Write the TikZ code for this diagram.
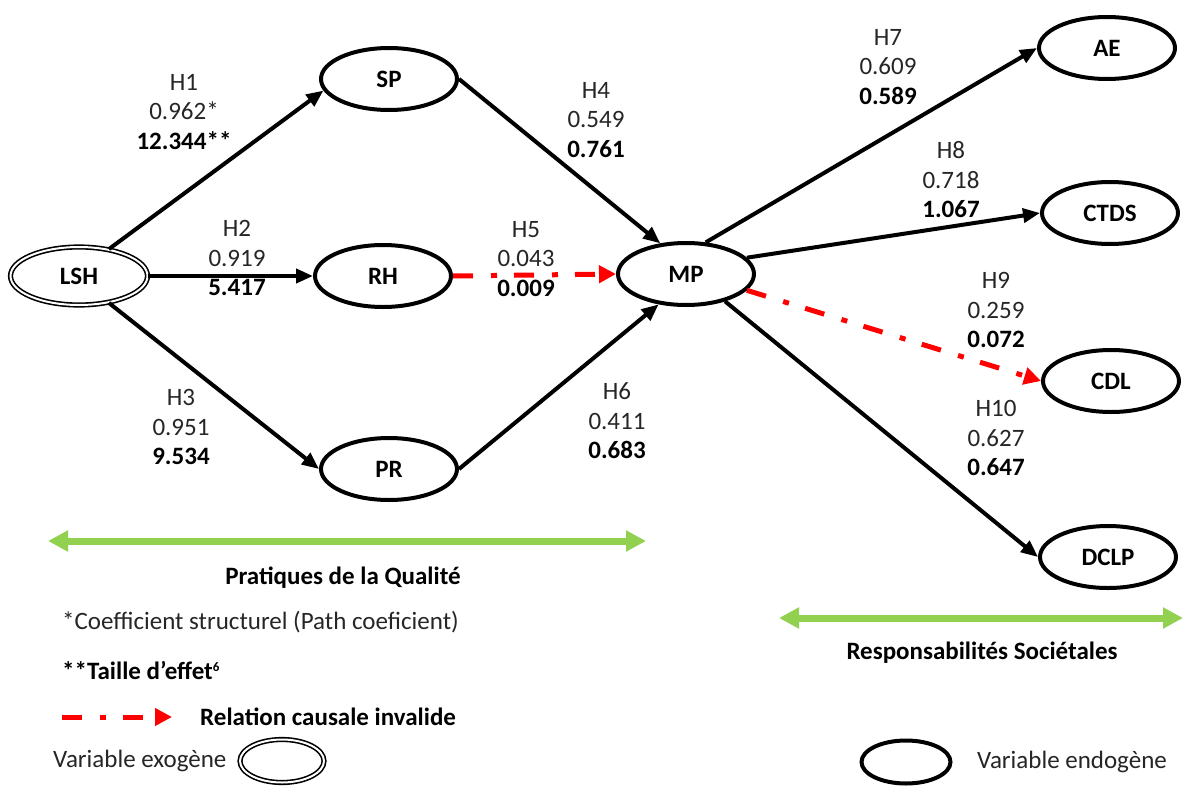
\documentclass[tikz,border=0pt]{standalone}
\usepackage{fontspec}
\setmainfont{Carlito}
\usetikzlibrary{arrows.meta,shapes.geometric}
\definecolor{lgreen}{RGB}{146,208,80}
\definecolor{txt}{RGB}{38,38,38}
\begin{document}
\begin{tikzpicture}[x=1pt,y=-1pt,
  every node/.style={font=\fontsize{25}{29.5}\selectfont, text=txt},
  var/.style={ellipse, draw=black, line width=4pt, minimum width=136pt, minimum height=62pt, inner sep=0pt, font=\fontsize{25}{29.5}\selectfont\bfseries, text=black},
  exo/.style={ellipse, draw=black, line width=1.6pt, double=white, double distance=2pt, minimum width=137pt, minimum height=58pt, inner sep=0pt, font=\fontsize{25}{29.5}\selectfont\bfseries, text=black},
  conn/.style={line width=4pt, -{Triangle[length=17pt,width=14pt]}},
  invalid/.style={red, line width=5pt, dash pattern=on 20pt off 18pt on 6pt off 17pt, -{Triangle[length=17pt,width=17pt]}},
  spanarrow/.style={lgreen, line width=7pt, {Triangle[length=20pt,width=20pt]}-{Triangle[length=20pt,width=20pt]}},
  lab/.style={align=center, inner sep=0pt},
  legtext/.style={anchor=west, inner sep=0pt},
  boldtext/.style={inner sep=0pt, font=\fontsize{25}{29.5}\selectfont\bfseries, text=black},
]
\useasboundingbox[fill=white] (0,0) rectangle (1184,787);

% nodes
\node[exo] (LSH) at (79,276) {LSH};
\node[var] (SP) at (389,79) {SP};
\node[var] (RH) at (383,276) {RH};
\node[var] (PR) at (389,469) {PR};
\node[var] (MP) at (686,274) {MP};
\node[var] (AE) at (1107,48) {AE};
\node[var] (CTDS) at (1110,213) {CTDS};
\node[var] (CDL) at (1111,381) {CDL};
\node[var] (DCLP) at (1108,557) {DCLP};

% connectors
\draw[conn] (LSH.42) -- (SP.190);
\draw[conn] (LSH.east) -- (RH.west);
\draw[conn] (LSH.-42) -- (PR.west);
\draw[conn] (SP.east) -- (MP.130);
\draw[invalid] (RH.east) -- (MP.west);
\draw[conn] (PR.east) -- (MP.228);
\draw[conn] (MP.58) -- (AE.west);
\draw[conn] (MP.15) -- (CTDS.west);
\draw[invalid] (MP.-15) -- (CDL.west);
\draw[conn] (MP.-35) -- (DCLP.west);

% labels
\node[lab] (h1) at (184,112) {H1\\0.962*\\\textbf{\color{black}12.344**}};
\node[lab] (h2) at (237,258) {H2\\0.919\\\textbf{\color{black}5.417}};
\node[lab] (h3) at (181,427) {H3\\0.951\\\textbf{\color{black}9.534}};
\node[lab] (h4) at (596,120) {H4\\0.549\\\textbf{\color{black}0.761}};
\node[lab] (h5) at (526,259) {H5\\0.043\\\textbf{\color{black}0.009}};
\node[lab] (h6) at (617,421) {H6\\0.411\\\textbf{\color{black}0.683}};
\node[lab] (h7) at (888,67) {H7\\0.609\\\textbf{\color{black}0.589}};
\node[lab] (h8) at (951,180) {H8\\0.718\\\textbf{\color{black}1.067}};
\node[lab] (h9) at (996,310) {H9\\0.259\\\textbf{\color{black}0.072}};
\node[lab] (h10) at (996,438) {H10\\0.627\\\textbf{\color{black}0.647}};

% group spans
\coordinate (g1a) at (48,541);
\coordinate (g1b) at (646,541);
\draw[spanarrow] (g1a) -- (g1b);
\node[boldtext] (g1t) at (343,578) {Pratiques de la Qualité};
\coordinate (g2a) at (779,618);
\coordinate (g2b) at (1183,618);
\draw[spanarrow] (g2a) -- (g2b);
\node[boldtext] (g2t) at (982,653) {Responsabilités Sociétales};

% legend
\node[legtext] (n1) at (62,622) {*Coefficient structurel (Path coeficient)};
\node[legtext, boldtext, anchor=west] (n2) at (62,670) {**Taille d’effet\raisebox{8pt}{\fontsize{13}{13}\selectfont 6}};
\coordinate (ra) at (62,717);
\coordinate (rb) at (172,717);
\draw[invalid] (ra) -- (rb);
\node[legtext, boldtext, anchor=west] (n3) at (200,717) {Relation causale invalide};
\node[legtext] (n4) at (53,761) {Variable exogène};
\node[exo, minimum width=84pt, minimum height=43pt] (exoleg) at (282,761) {};
\node[var, minimum width=89pt, minimum height=43pt] (endoleg) at (906,762) {};
\node[legtext] (n5) at (977,762) {Variable endogène};
\end{tikzpicture}
\end{document}
